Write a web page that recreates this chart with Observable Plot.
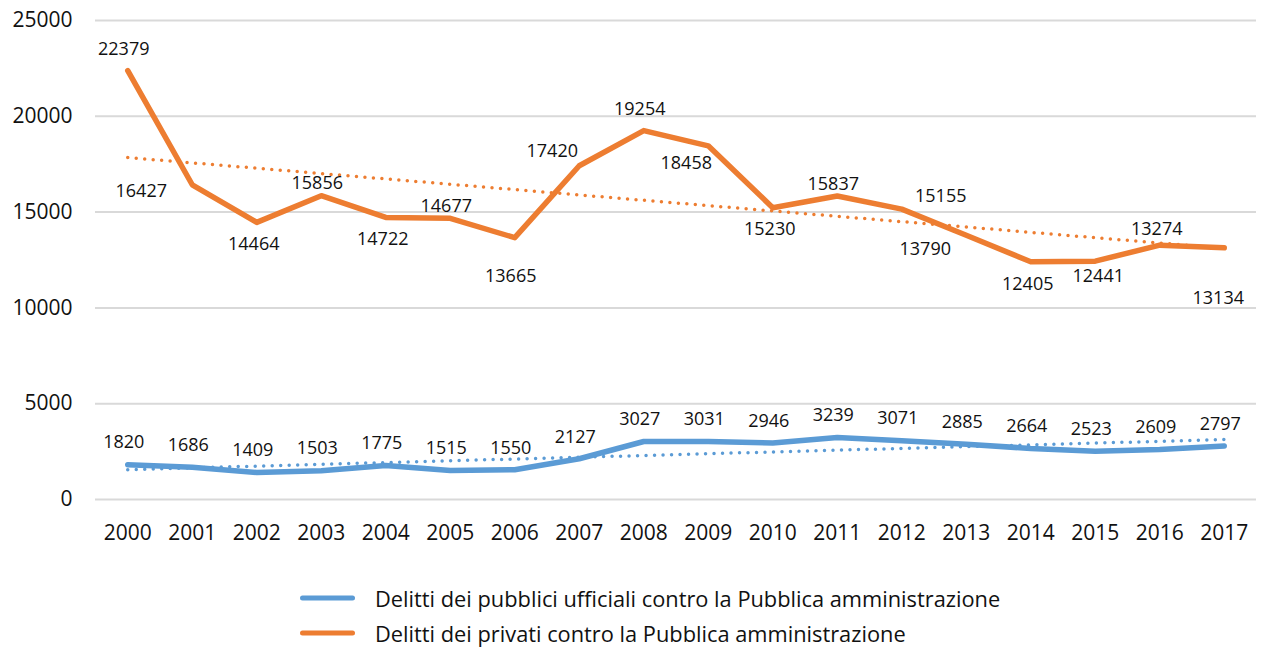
<!DOCTYPE html>
<html>
<head>
<meta charset="utf-8">
<script src="https://cdn.jsdelivr.net/npm/d3@7"></script>
<script src="https://cdn.jsdelivr.net/npm/@observablehq/plot@0.6"></script>
<style>
  body { margin: 0; background: #fff; font-family: "Open Sans", sans-serif; }
  #legend { position: relative; height: 89px; }
  .item { position: absolute; left: 300px; display: flex; align-items: center; font-size: 21.8px; color: #111; white-space: nowrap; }
  .swatch { width: 55px; height: 5px; border-radius: 3px; margin-right: 20px; }
</style>
</head>
<body>
<div id="chart"></div>
<div id="legend"></div>
<script>
const years = [2000,2001,2002,2003,2004,2005,2006,2007,2008,2009,2010,2011,2012,2013,2014,2015,2016,2017];
const pubblici = [1820,1686,1409,1503,1775,1515,1550,2127,3027,3031,2946,3239,3071,2885,2664,2523,2609,2797];
const privati = [22379,16427,14464,15856,14722,14677,13665,17420,19254,18458,15230,15837,15155,13790,12405,12441,13274,13134];
const seriesNames = ["Delitti dei pubblici ufficiali contro la Pubblica amministrazione", "Delitti dei privati contro la Pubblica amministrazione"];
const seriesColors = ["#5B9BD5", "#ED7D31"];
const yTicks = [0, 5000, 10000, 15000, 20000, 25000];
// label placement for the orange series (style hints, not data)
const privatiPlacement = ["above","left","below","above2","below","above2","farBelow","aboveLeft","above","belowLeft","below","above2","right","belowLeft2","below","below2","above3","farBelow2"];

const placementOffsets = {
  above: [-4, -21], above2: [-4, -12], above3: [-3, -16], below: [-3, 22], below2: [3, 15], farBelow: [-4, 39], farBelow2: [-6, 50],
  left: [-51, 6], aboveLeft: [-27, -14], belowLeft: [-22, 17], belowLeft2: [-41, 14], right: [39, -13]
};

const pub = years.map((y, i) => ({year: y, value: pubblici[i]}));
const priv = years.map((y, i) => ({year: y, value: privati[i], place: privatiPlacement[i]}));

const labelFont = {fontSize: 18, fill: "#111"};
const privLabelMarks = Object.entries(placementOffsets).map(([k, [dx, dy]]) =>
  Plot.text(priv, {filter: d => d.place === k, x: "year", y: "value", text: d => String(d.value), dx, dy, ...labelFont})
);

const chart = Plot.plot({
  width: 1264,
  height: 560,
  marginLeft: 95,
  marginRight: 8,
  marginTop: 20,
  marginBottom: 61,
  style: {fontFamily: "Open Sans, sans-serif", background: "#fff"},
  x: {type: "linear", domain: [1999.5, 2017.5], label: null},
  y: {domain: [0, 25000], label: null},
  marks: [
    Plot.gridY(yTicks, {stroke: "#d9d9d9", strokeOpacity: 1, strokeWidth: 2}),
    Plot.axisX({ticks: years, tickFormat: d => String(d), tickSize: 0, tickPadding: 26, fontSize: 21, fill: "#111", label: null}),
    Plot.axisY({ticks: yTicks, tickSize: 0, tickPadding: 23, fontSize: 21, fill: "#111", label: null, tickFormat: d => String(d)}),
    Plot.linearRegressionY(priv, {x: "year", y: "value", stroke: seriesColors[1], ci: 0, strokeWidth: 3.5, strokeDasharray: "0 8.5", strokeLinecap: "round"}),
    Plot.linearRegressionY(pub, {x: "year", y: "value", stroke: seriesColors[0], ci: 0, strokeWidth: 3.5, strokeDasharray: "0 8.5", strokeLinecap: "round"}),
    Plot.line(priv, {x: "year", y: "value", stroke: seriesColors[1], strokeWidth: 5.5, strokeLinejoin: "round", strokeLinecap: "round"}),
    Plot.line(pub, {x: "year", y: "value", stroke: seriesColors[0], strokeWidth: 5.5, strokeLinejoin: "round", strokeLinecap: "round"}),
    Plot.text(pub, {x: "year", y: "value", text: d => String(d.value), dx: -4, dy: -22, ...labelFont}),
    ...privLabelMarks
  ]
});
document.getElementById("chart").appendChild(chart);

const legend = document.getElementById("legend");
seriesNames.forEach((name, i) => {
  const item = document.createElement("div");
  item.className = "item";
  item.style.top = (i === 0 ? 38 : 73) + "px";
  item.style.transform = "translateY(-50%)";
  const sw = document.createElement("div");
  sw.className = "swatch";
  sw.style.background = seriesColors[i];
  const t = document.createElement("span");
  t.textContent = name;
  item.appendChild(sw);
  item.appendChild(t);
  legend.appendChild(item);
});
</script>
</body>
</html>
